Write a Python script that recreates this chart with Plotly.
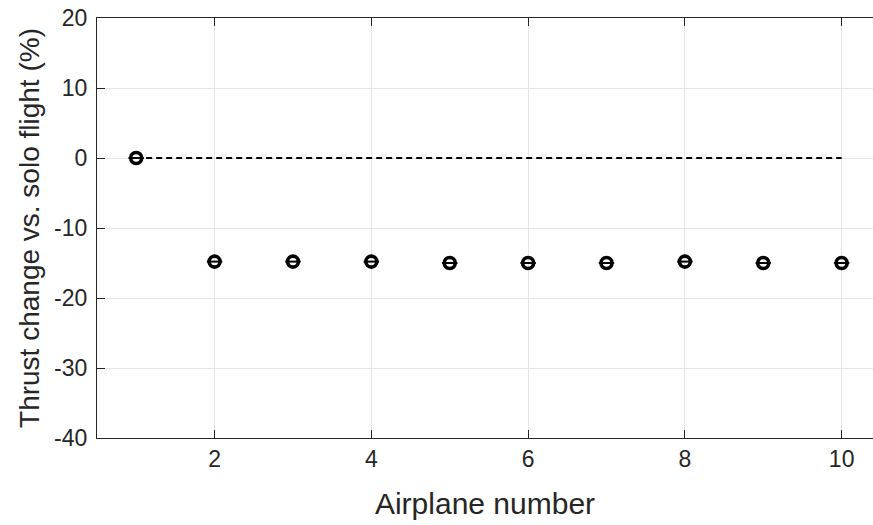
import plotly.graph_objects as go

# Thrust change of each airplane in the formation relative to solo flight
airplane = [1, 2, 3, 4, 5, 6, 7, 8, 9, 10]
thrust_change = [0.0, -14.8, -14.8, -14.8, -15.0, -15.0, -15.0, -14.8, -15.0, -15.0]

# Solo-flight reference level
ref_x = [1, 10]
ref_y = [0, 0]

x_ticks = [2, 4, 6, 8, 10]
x_ticklabels = ["2", "4", "6", "8", "10"]
y_ticks = [-40, -30, -20, -10, 0, 10, 20]
y_ticklabels = ["-40", "-30", "-20", "-10", "0", "10", "20"]

axis_color = "#262626"
grid_color = "#e5e5e5"
font_family = "Liberation Sans, Arial, Helvetica, sans-serif"

fig = go.Figure()

fig.add_trace(go.Scatter(
    x=ref_x, y=ref_y, mode="lines",
    line=dict(color="black", width=2, dash="6px,4px"),
    showlegend=False, hoverinfo="skip",
))

fig.add_trace(go.Scatter(
    x=airplane, y=thrust_change, mode="markers",
    marker=dict(symbol="circle-open", size=11, color="black",
                line=dict(color="black", width=3.6)),
    showlegend=False,
))
fig.add_trace(go.Scatter(
    x=airplane, y=thrust_change, mode="markers",
    marker=dict(symbol="line-ew", size=11, color="black",
                line=dict(color="black", width=2)),
    showlegend=False, hoverinfo="skip",
))

axis_common = dict(
    showline=True, linecolor=axis_color, linewidth=1.2,
    ticks="inside", ticklen=8, tickwidth=1.2,
    tickcolor=axis_color, showgrid=True, gridcolor=grid_color,
    gridwidth=1, zeroline=False,
    tickfont=dict(family=font_family, size=23, color=axis_color),
)

fig.update_xaxes(
    range=[0.5, 10.4], tickvals=x_ticks, ticktext=x_ticklabels,
    mirror="ticks",
    title=dict(text="Airplane number",
               font=dict(family=font_family, size=30, color=axis_color),
               standoff=22),
    **axis_common,
)
fig.update_yaxes(
    range=[-40, 20], tickvals=y_ticks, ticktext=y_ticklabels,
    mirror=False, ticklabelstandoff=4,
    title=dict(text="Thrust change vs. solo flight (%)",
               font=dict(family=font_family, size=28, color=axis_color),
               standoff=6),
    **axis_common,
)

fig.update_layout(
    width=873, height=525, autosize=False,
    margin=dict(l=97, r=0, t=18, b=87),
    plot_bgcolor="white", paper_bgcolor="white",
    font=dict(family=font_family, color=axis_color),
)

fig.write_html("out.html")
